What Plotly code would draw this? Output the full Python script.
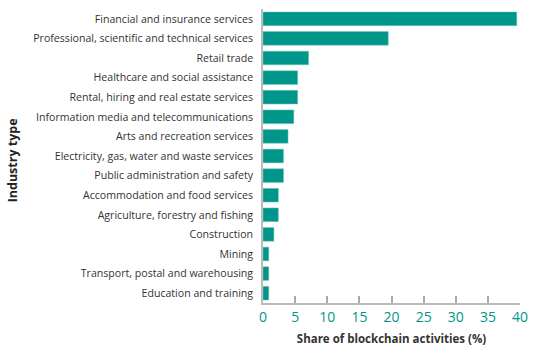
import plotly.graph_objects as go

categories = [
    "Financial and insurance services",
    "Professional, scientific and technical services",
    "Retail trade",
    "Healthcare and social assistance",
    "Rental, hiring and real estate services",
    "Information media and telecommunications",
    "Arts and recreation services",
    "Electricity, gas, water and waste services",
    "Public administration and safety",
    "Accommodation and food services",
    "Agriculture, forestry and fishing",
    "Construction",
    "Mining",
    "Transport, postal and warehousing",
    "Education and training",
]
shares = [39.5, 19.5, 7.1, 5.4, 5.4, 4.8, 3.9, 3.2, 3.2, 2.4, 2.4, 1.7, 0.9, 0.9, 0.9]
x_ticks = [0, 5, 10, 15, 20, 25, 30, 35, 40]

teal = "#00968A"
fig = go.Figure(go.Bar(
    x=shares, y=categories, orientation="h",
    marker=dict(color=teal, line=dict(color="#7fcac3", width=0.5)),
    width=0.7,
))
fig.update_layout(
    width=537, height=353,
    margin=dict(l=263, r=15, t=9, b=48),
    paper_bgcolor="white", plot_bgcolor="white",
    font=dict(family="Open Sans", color="#333333"),
    showlegend=False,
    bargap=0.3,
    annotations=[dict(
        text="<b>Industry type</b>", textangle=-90,
        xref="paper", yref="paper", x=-(263 - 10) / 259, y=0.485,
        xanchor="center", yanchor="middle", showarrow=False,
        font=dict(size=12.5, color="#222222"),
    )],
)
fig.update_yaxes(
    categoryorder="array", categoryarray=categories, autorange="reversed",
    showline=True, linecolor="#bbbbbb", linewidth=1.5,
    ticks="", ticklabelstandoff=6,
    tickfont=dict(size=10.6, color="#333333"),
    showgrid=False,
)
fig.update_xaxes(
    range=[0, 40], tickvals=x_ticks,
    showline=True, linecolor="#bbbbbb", linewidth=1.5,
    ticks="inside", ticklen=7, tickcolor="#aaaaaa", tickwidth=1.5,
    tickfont=dict(size=14, color=teal),
    showgrid=False, zeroline=False,
    title=dict(text="<b>Share of blockchain activities (%)</b>", font=dict(size=11.5, color="#333333"), standoff=10),
)
fig.write_html("out.html")
